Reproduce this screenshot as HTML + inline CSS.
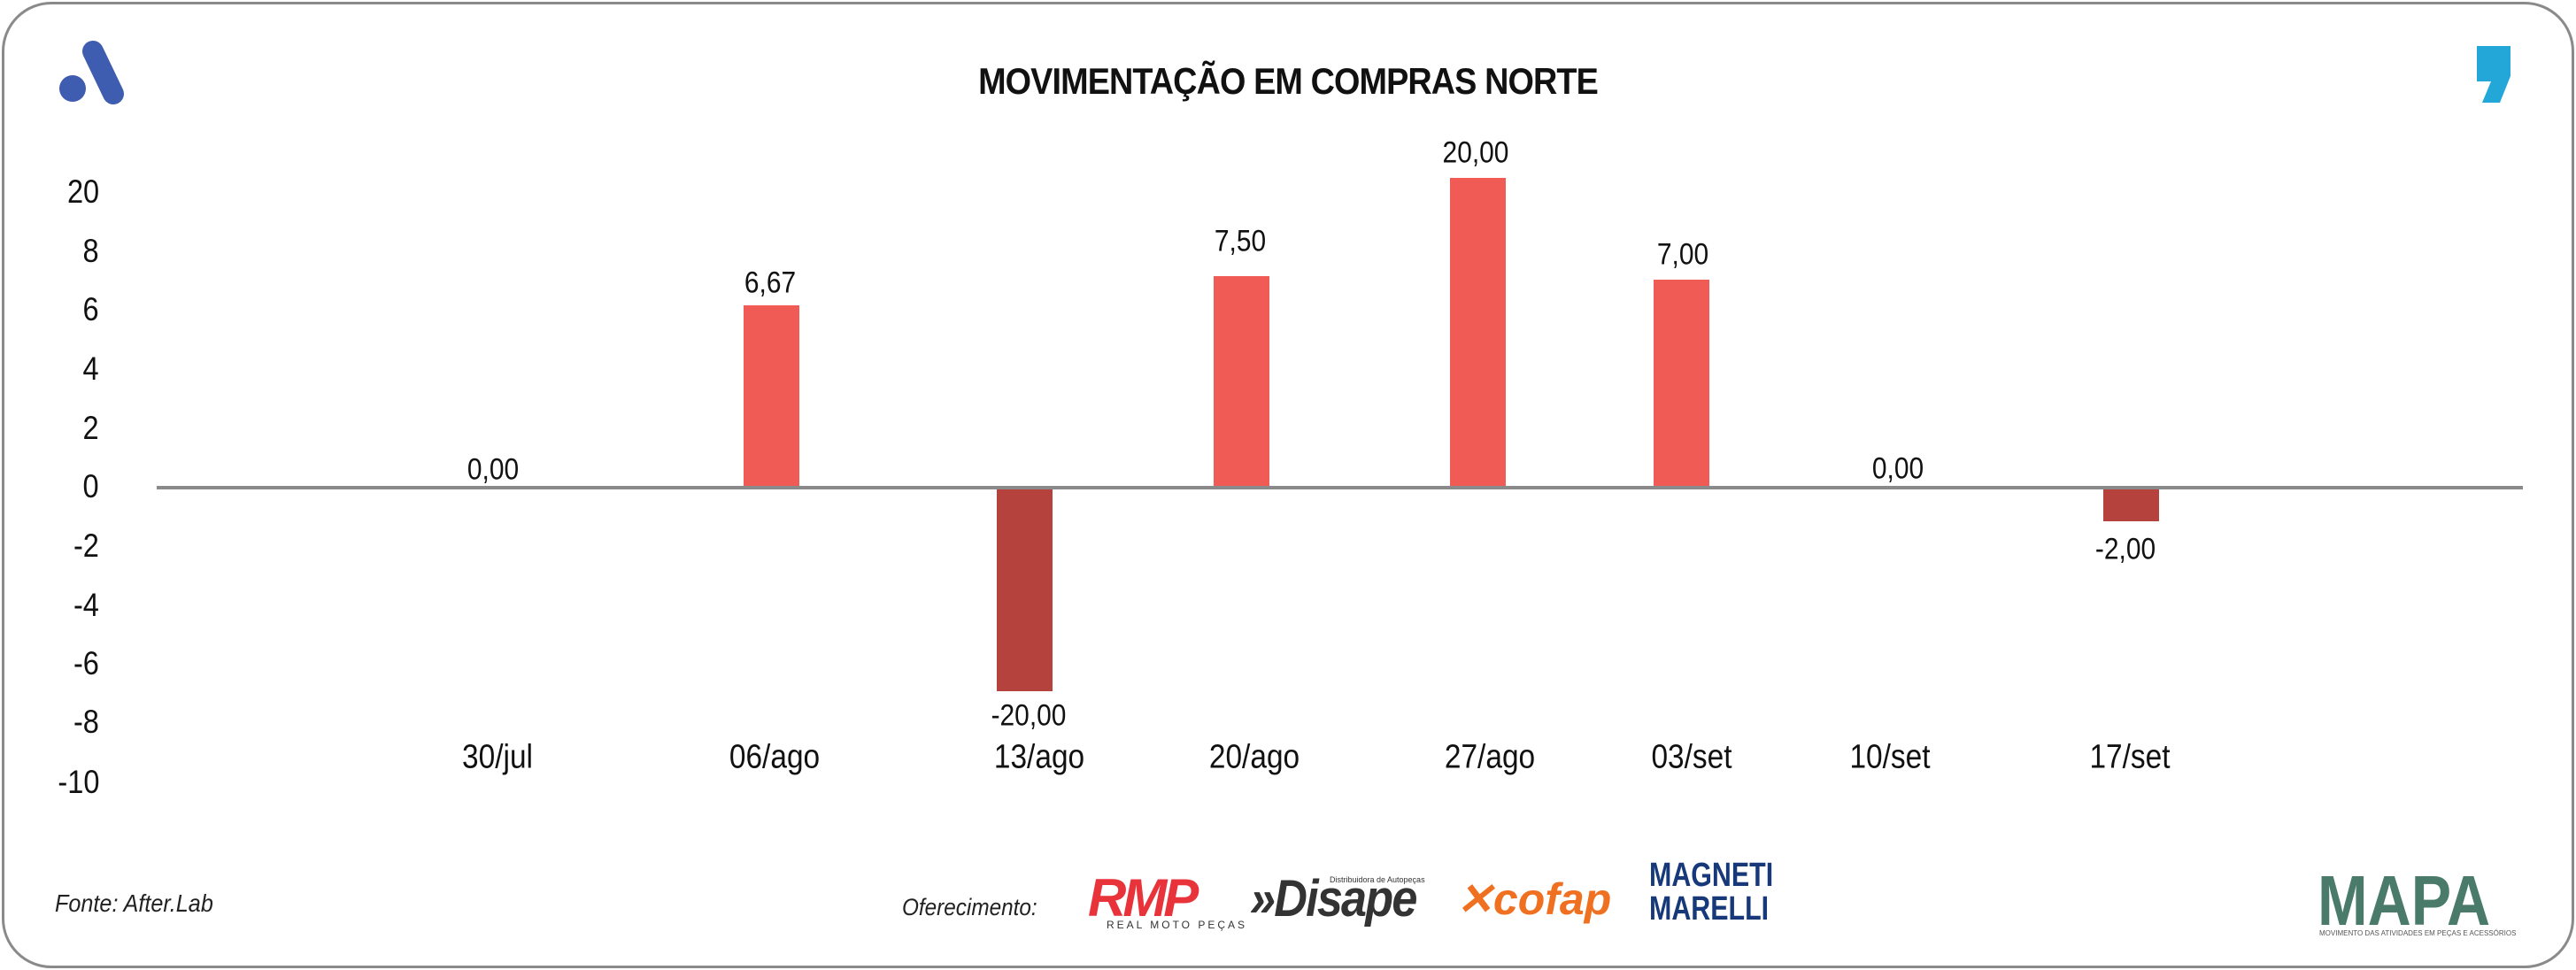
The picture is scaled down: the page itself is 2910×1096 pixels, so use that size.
<!DOCTYPE html>
<html><head><meta charset="utf-8"><style>
html,body{margin:0;padding:0;background:#fff;}
body{width:2910px;height:1096px;position:relative;overflow:hidden;font-family:"Liberation Sans",sans-serif;}
.frame{position:absolute;left:2px;top:2px;width:2900px;height:1086px;border:3px solid #8a8a8a;border-radius:56px;}
.t{position:absolute;white-space:nowrap;color:#111;}
.yt{position:absolute;right:2798px;font-size:37px;transform:translateY(-50%) scaleX(0.88);transform-origin:right center;}
.dl{position:absolute;font-size:34px;transform:translate(-50%,-50%) scaleX(0.88);}
.cl{position:absolute;font-size:38px;transform:translate(-50%,-50%) scaleX(0.88);top:856px;}
.bar{position:absolute;width:63px;}
.p{background:#F05B55;}.n{background:#B5423D;}
</style></head><body>
<div class="frame"></div>
<svg style="position:absolute;left:66px;top:46px" width="78" height="76" viewBox="0 0 78 76">
<line x1="39" y1="12" x2="62" y2="60" stroke="#3F5DB0" stroke-width="24" stroke-linecap="round"/>
<circle cx="16" cy="54" r="15" fill="#3F5DB0"/>
</svg>
<svg style="position:absolute;left:2794px;top:52px" width="44" height="66" viewBox="0 0 44 66">
<path d="M4 0H42V34L30 64H10L20 40H4Z" fill="#22A7D8"/>
</svg>
<div class="t" style="left:0;width:2910px;text-align:center;top:68px;font-size:42px;font-weight:bold;letter-spacing:-1px;transform:scaleX(0.9);">MOVIMENTAÇÃO EM COMPRAS NORTE</div>

<div class="t yt" style="top:217px">20</div>
<div class="t yt" style="top:284px">8</div>
<div class="t yt" style="top:350px">6</div>
<div class="t yt" style="top:417px">4</div>
<div class="t yt" style="top:484px">2</div>
<div class="t yt" style="top:550px">0</div>
<div class="t yt" style="top:617px">-2</div>
<div class="t yt" style="top:684px">-4</div>
<div class="t yt" style="top:750px">-6</div>
<div class="t yt" style="top:816px">-8</div>
<div class="t yt" style="top:884px">-10</div>

<div class="bar p" style="left:840px;top:345px;height:205px"></div>
<div class="bar n" style="left:1126px;top:553px;height:228px"></div>
<div class="bar p" style="left:1371px;top:312px;height:238px"></div>
<div class="bar p" style="left:1638px;top:201px;height:349px"></div>
<div class="bar p" style="left:1868px;top:316px;height:234px"></div>
<div class="bar n" style="left:2376px;top:553px;height:36px"></div>
<div style="position:absolute;left:177px;top:549px;width:2673px;height:4px;background:#8a8a8a"></div>

<div class="t dl" style="left:557px;top:531px">0,00</div>
<div class="t dl" style="left:870px;top:320px">6,67</div>
<div class="t dl" style="left:1162px;top:809px">-20,00</div>
<div class="t dl" style="left:1401px;top:273px">7,50</div>
<div class="t dl" style="left:1667px;top:173px">20,00</div>
<div class="t dl" style="left:1901px;top:288px">7,00</div>
<div class="t dl" style="left:2144px;top:530px">0,00</div>
<div class="t dl" style="left:2401px;top:621px">-2,00</div>

<div class="t cl" style="left:562px">30/jul</div>
<div class="t cl" style="left:875px">06/ago</div>
<div class="t cl" style="left:1174px">13/ago</div>
<div class="t cl" style="left:1417px">20/ago</div>
<div class="t cl" style="left:1683px">27/ago</div>
<div class="t cl" style="left:1911px">03/set</div>
<div class="t cl" style="left:2135px">10/set</div>
<div class="t cl" style="left:2406px">17/set</div>

<div class="t" style="left:62px;top:1005px;font-size:28px;font-style:italic;color:#222;transform:scaleX(0.9);transform-origin:left">Fonte: After.Lab</div>
<div class="t" style="left:1019px;top:1010px;font-size:27px;font-style:italic;color:#222;transform:scaleX(0.9);transform-origin:left">Oferecimento:</div>
<div class="t" style="left:1229px;top:980px;font-size:60px;font-weight:bold;font-style:italic;color:#E8333B;letter-spacing:-4px">RMP</div>
<div class="t" style="left:1250px;top:1038px;font-size:12px;letter-spacing:3px;color:#333">REAL MOTO PEÇAS</div>
<div class="t" style="left:1412px;top:982px;font-size:58px;font-weight:bold;font-style:italic;color:#333;letter-spacing:-2px;transform:scaleX(0.9);transform-origin:left">»Disape</div>
<div class="t" style="left:1502px;top:989px;font-size:9px;color:#333">Distribuidora de Autopeças</div>
<div class="t" style="left:1645px;top:987px;font-size:50px;font-weight:bold;font-style:italic;color:#F07021">✕cofap</div>
<div class="t" style="left:1863px;top:970px;font-size:38px;font-weight:bold;color:#17397A;line-height:38px;transform:scaleX(0.8);transform-origin:left">MAGNETI<br>MARELLI</div>
<div class="t" style="left:2618px;top:972px;font-size:80px;font-weight:bold;color:#4a7a6a;letter-spacing:0px;transform:scaleX(0.85);transform-origin:left">MAPA</div>
<div class="t" style="left:2620px;top:1050px;font-size:8px;color:#555">MOVIMENTO DAS ATIVIDADES EM PEÇAS E ACESSÓRIOS</div>
</body></html>
